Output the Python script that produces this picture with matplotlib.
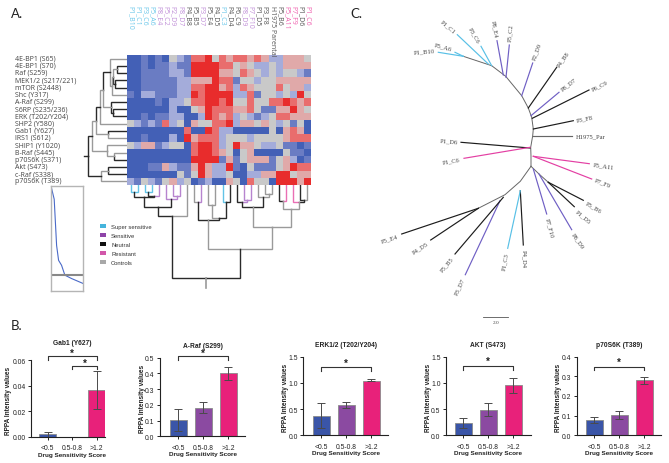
import matplotlib
matplotlib.use("Agg")
import matplotlib.pyplot as plt
from matplotlib.colors import ListedColormap
from matplotlib.patches import Rectangle

W, H = 669, 464
SKY, PUR, BLK, GRY, PNK = '#62c3e6', '#b784cf', '#2a2a2a', '#9a9a9a', '#ea6fb4'

# ---------- Panel A data ----------
proteins = ['4E-BP1 (S65)', '4E-BP1 (S70)', 'Raf (S259)', 'MEK1/2 (S217/221)', 'mTOR (S2448)',
            'Shc (Y317)', 'A-Raf (S299)', 'S6RP (S235/236)', 'ERK (T202/Y204)', 'SHP2 (Y580)',
            'Gab1 (Y627)', 'IRS1 (S612)', 'SHIP1 (Y1020)', 'B-Raf (S445)', 'p70S6K (S371)',
            'Akt (S473)', 'c-Raf (S338)', 'p70S6K (T389)']
clones = ['P1_B10', 'P1_C1', 'P3_C6', 'P5_A6', 'P8_E4', 'P5_C2', 'P2_D9', 'P8_D7', 'P4_B8',
          'P5_B5', 'P3_D7', 'P5_E4', 'P4_D5', 'P1_C3', 'P4_D4', 'P6_C9', 'P8_D9', 'P7_F10',
          'P1_D5', 'P3_F8', 'H1975 Parental', 'P5_B6', 'P5_A11', 'P7_F9', 'P1_D6', 'P1_C6']
clone_group = 'ssssppppnnpnnsnnppnncnrrnr'
group_colors = {'s': '#6cc8ea', 'p': '#c08fd8', 'n': '#555555', 'c': '#555555', 'r': '#ef5fae'}
intensity = [
    [0,0,1,0,1,0,3,2,1,5,5,6,3, 5,4,5,5,4,5,4,2,2,4,4,4,3],
    [0,0,1,0,1,1,2,1,1,6,6,6,6, 5,5,3,4,3,2,2,3,2,4,4,4,4],
    [0,0,1,1,1,1,2,2,1,6,6,6,6, 4,4,3,5,4,3,2,3,2,3,3,2,1],
    [0,0,1,1,1,1,1,2,2,4,4,4,6, 5,5,1,3,3,2,3,3,4,4,4,4,4],
    [0,0,1,1,1,1,1,2,2,5,5,6,6, 4,5,2,5,4,3,3,3,5,3,4,4,2],
    [1,0,2,2,1,1,1,2,2,6,5,6,6, 6,6,2,2,5,1,3,3,2,3,2,6,3],
    [0,0,0,0,1,0,2,2,3,5,5,6,6, 5,6,3,3,5,3,3,5,5,6,5,4,5],
    [0,0,0,0,0,0,2,0,0,3,4,6,5, 5,5,4,4,5,3,1,1,4,4,6,4,3],
    [0,0,1,0,1,1,2,2,0,0,2,6,5, 4,5,2,3,2,1,2,3,5,5,4,4,4],
    [3,2,1,2,1,5,2,3,0,4,3,3,5, 5,6,2,4,4,3,4,3,2,3,1,3,0],
    [0,0,0,0,0,0,0,0,5,0,0,6,5, 2,2,0,0,0,0,0,3,0,4,5,4,0],
    [0,0,1,0,0,0,2,0,6,4,5,5,5, 2,3,3,3,2,3,3,3,3,4,5,5,5],
    [3,2,4,4,1,2,3,3,0,5,6,6,5, 2,3,6,4,4,3,2,2,3,1,1,0,1],
    [0,0,0,0,0,0,0,0,0,5,6,6,5, 4,3,0,3,4,0,0,0,0,3,1,1,0],
    [0,0,0,0,0,0,0,0,0,6,6,6,6, 1,4,1,3,4,4,4,1,3,4,2,0,1],
    [0,0,0,1,1,4,2,1,1,4,6,4,2, 2,6,1,0,3,1,1,1,3,4,6,5,5],
    [0,0,0,0,0,0,0,3,1,3,6,4,2, 2,3,0,0,2,2,4,4,6,6,3,4,4],
    [2,1,3,2,1,3,4,2,3,0,1,2,0, 0,4,3,0,5,3,3,0,6,6,6,4,6],
]
heat_colors = ['#4360b6', '#6a7cc3', '#a4acda', '#c9c9c9', '#e0a9a9', '#e96d6d', '#e82c2c']

# merges: child a, child b, height, colour of a's side, colour of b's side
col_merges = [
    (0,1,7.3,SKY,SKY), (2,3,6.7,SKY,SKY), (27,4,10.7,BLK,PUR), (26,28,12.3,BLK,BLK),
    (6,7,10.7,PUR,PUR), (5,30,14,PUR,PUR), (29,31,22,BLK,BLK), (32,8,31,BLK,GRY),
    (9,10,17.3,GRY,PUR), (11,12,20,GRY,GRY), (13,14,16.7,SKY,BLK), (35,36,33.3,GRY,BLK),
    (34,37,35.3,BLK,BLK), (16,17,15,PUR,PUR), (15,39,16.7,BLK,PUR), (19,20,9,GRY,GRY),
    (18,41,12.3,GRY,GRY), (40,42,22.3,BLK,BLK), (21,22,16,BLK,PNK), (24,25,14.7,BLK,GRY),
    (23,45,17.3,PNK,BLK), (44,46,24,GRY,GRY), (43,47,41.7,GRY,GRY), (38,48,64,GRY,GRY),
    (33,49,93,BLK,BLK),
]
col_stem = 103
row_merges = [
    (1,2,10.3,BLK,BLK), (3,4,11.7,BLK,BLK), (18,19,13.7,GRY,BLK), (20,5,15,GRY,GRY),
    (0,21,17,GRY,GRY), (7,8,13.7,BLK,BLK), (6,23,16,BLK,BLK), (22,24,23.7,BLK,GRY),
    (25,9,27,GRY,GRY), (10,11,19,BLK,GRY), (26,27,31.3,BLK,GRY), (13,14,12.7,GRY,BLK),
    (12,29,20.3,GRY,GRY), (28,30,34.7,GRY,GRY), (15,16,18.7,BLK,BLK), (32,17,26,GRY,GRY),
    (31,33,38.7,BLK,BLK),
]
row_stem = 43

key_x = [.02, .10, .175, .237, .33, .433, .64, 1.0]
key_y = [.975, .874, .434, .292, .245, .151, .119, .072]
key_level = .151

legend_names = ['Super sensitive', 'Sensitive', 'Neutral', 'Resistant', 'Controls']
legend_colors = ['#45b4dc', '#8e44a8', '#111111', '#d257aa', '#a8a8a8']

# ---------- Panel B data ----------
score_bins = ['<0.5', '0.5-0.8', '>1.2']
bar_colors = ['#3a55a8', '#8b4aa1', '#e8217a']
panels = [
    dict(title='Gab1 (Y627)', means=[.002, 0, .037], low=[0, 0, .022], high=[.004, 0, .0515],
         ticks=[0, .02, .04, .06], fmt='%.2f', box=(31, 105, 361.3, 438), c0=47.7, step=24.5),
    dict(title='A-Raf (S299)', means=[.105, .182, .40], low=[.035, .15, .36], high=[.172, .218, .44],
         ticks=[0, .1, .2, .3, .4, .5], fmt='%.1f', box=(160, 245, 358.7, 437.3), c0=178.3, step=25),
    dict(title='ERK1/2 (T202/Y204)', means=[.37, .58, 1.045], low=[.13, .52, 1.03], high=[.61, .63, 1.065],
         ticks=[0, .5, 1, 1.5], fmt='%.1f', box=(303.3, 388.3, 357.7, 436.3), c0=321, step=25),
    dict(title='AKT (S473)', means=[.235, .49, .955], low=[.14, .37, .81], high=[.33, .615, 1.1],
         ticks=[0, .5, 1, 1.5], fmt='%.1f', box=(446, 530.7, 357.7, 436.3), c0=463.3, step=25),
    dict(title='p70S6K (T389)', means=[.078, .103, .28], low=[.063, .085, .262], high=[.092, .122, .298],
         ticks=[0, .1, .2, .3, .4], fmt='%.1f', box=(576.7, 661.3, 357.7, 436.3), c0=594, step=25),
]
# bracket: from bar, to bar, bracket level, leg end level, star level
brackets = [
    [(0, 2, .0634, .0605, .0655), (1, 2, .0558, .053, .058)],
    [(0, 2, .508, .483, .532)],
    [(0, 2, 1.303, 1.233, 1.385)],
    [(0, 2, 1.328, 1.252, 1.42)],
    [(0, 2, .349, .332, .372)],
]

# ---------- Panel C data ----------
tree_backbone = [(463.3,57.3),(491.7,66.7),(505.7,77.3),(521.7,96.7),(528.3,109),(531.7,118.3),
                 (533.3,130),(532.7,136.7),(530.7,148.3),(531,157.3),(531,167.3)]
tree_left = [(531,167.3),(520.3,182.3),(505,195.7),(478.3,209.3)]
tree_right = [(531,167.3),(539,175),(548.3,183.3)]
tree_names = ['P1_C1','P5_A6','P1_B10','P3_C6','P8_E4','P5_C2','P2_D9','P4_B8','P8_D7','P6_C9','P3_F8',
              'H1975_Par','P1_D6','P1_C6','P5_A11','P7_F9','P5_B6','P1_D5','P8_D9','P7_F10','P4_D4',
              'P1_C3','P3_D7','P5_B5','P4_D5','P5_E4']
tree_groups = ['s','s','s','s','p','p','p','n','p','n','n','c','n','r','r','r','n','n','p','p','n','s','p','n','n','n']
tree_base = [(488.3,65),(463.3,57.3),(463.3,57.3),(491.7,66.7),(503.3,76),(506,78.3),(521.7,96.7),
             (528.3,109),(531,116.7),(532.3,119.3),(533.3,130),(532.7,136.7),(530,149),(530,148.3),
             (533.3,157.3),(533.3,157.3),(548.3,183.3),(548.3,183.3),(539,175),(533.3,170),
             (520.3,191.7),(520.3,191.7),(500,201.7),(503.3,198.3),(478.3,209.3),(478.3,209.3)]
tree_tip = [(457.3,35.7),(455,53.3),(438.3,53.3),(481,47.3),(497,41.7),(509.3,46),(532.7,64),
            (556.7,68.3),(559,93.3),(589,91),(573.3,121.7),(571.7,136.7),(461,143.3),(464,159.3),
            (589.3,164.7),(591.7,180),(583.3,201.3),(574.3,207.7),(571.7,230.7),(546.7,215),
            (523.3,246),(507.7,249.3),(465.3,275.7),(455,255),(430.7,241),(401.7,235)]
tree_label_pos = [(448.3,27.3),(443.3,47.7),(424,51.7),(474.3,36),(494,29.3),(510.3,33.3),(536.7,52.3),
                  (563.3,59),(568.3,84.7),(600,86),(584.7,119.3),(590.7,137),(448.7,142),(451,161.7),
                  (603.3,166.7),(602.3,183.3),(594,207.3),(582.7,216.7),(577.7,241),(550,228.3),
                  (524,258.7),(505.3,262.3),(459.3,287.3),(446.7,264.7),(420,248.7),(389,239.3)]
tree_label_rot = [-40,-15,5,-60,-80,85,70,55,38,27,12,0,-5,10,-8,-22,-30,-40,-55,-75,-90,80,65,50,33,18]
tree_colors = {'s':'#58c0e6','p':'#6f5fc4','n':'#1c1c1c','c':'#666666','r':'#e33fa3'}
scale_bar = [(483.3,318),(508.3,318)]

# ---------- Drawing ----------
fig = plt.figure(figsize=(W/100, H/100), dpi=100, facecolor='white')

def px_axes(l, r, t, b, **kw):
    return fig.add_axes([l/W, 1-b/H, (r-l)/W, (b-t)/H], **kw)

def ftext(x, y, s, **kw):
    return fig.text(x/W, 1-y/H, s, **kw)

SANS = 'Open Sans'
ARIAL = 'Liberation Sans'
SERIF = 'Liberation Serif'

# heatmap
ax = px_axes(127, 311, 56, 186)
ax.imshow(intensity, cmap=ListedColormap(heat_colors), vmin=0, vmax=6, aspect='auto',
          interpolation='nearest')
ax.set_xticks([]); ax.set_yticks([])
for s in ax.spines.values():
    s.set_visible(False)
for i, name in enumerate(proteins):
    ftext(15, 56 + 7.22*(i+.5) - .6, name, fontsize=5.0, family=SANS, color='#444444', va='center', ha='left')
for i, name in enumerate(clones):
    ftext(127 + 7.08*(i+.5), 6.5, name, fontsize=5.0, family=SANS, rotation=-90, ha='center', va='top',
          color=group_colors[clone_group[i]])

def draw_tree(axis, merges, n, stem, vertical_root):
    pos = {i: i for i in range(n)}
    hgt = {i: 0 for i in range(n)}
    last = None
    for k, (a, b, h, ca, cb) in enumerate(merges):
        idx = n + k
        mid = (pos[a] + pos[b]) / 2
        for child, colr in ((a, ca), (b, cb)):
            xs = [pos[child], pos[child], mid]
            ys = [hgt[child], h, h]
            if vertical_root:
                axis.plot(xs, ys, color=colr, lw=1.0, solid_capstyle='projecting', solid_joinstyle='miter')
            else:
                axis.plot(ys, xs, color=colr, lw=1.0, solid_capstyle='projecting', solid_joinstyle='miter')
        pos[idx], hgt[idx] = mid, h
        last = idx
    xs, ys = [pos[last], pos[last]], [hgt[last], stem]
    if vertical_root:
        axis.plot(xs, ys, color=GRY, lw=1.2)
    else:
        axis.plot(ys, xs, color=BLK, lw=1.0)

ax = px_axes(127, 311, 186, 290)
ax.set_xlim(-.5, 25.5); ax.set_ylim(104, 0); ax.axis('off')
draw_tree(ax, col_merges, 26, col_stem, True)

ax = px_axes(80, 127, 56, 186)
ax.set_xlim(47, 0); ax.set_ylim(17.5, -.5); ax.axis('off')
draw_tree(ax, row_merges, 18, row_stem, False)

# colour key
ax = px_axes(51, 83, 187, 292)
ax.plot(key_x, key_y, color='#4a6ac8', lw=.8)
ax.axhline(key_level, color='#888888', lw=1.5)
ax.set_xlim(0, 1); ax.set_ylim(0, 1); ax.set_xticks([]); ax.set_yticks([])
for s in ax.spines.values():
    s.set_color('#b5b5b5'); s.set_linewidth(1)

# legend
for i, (name, colr) in enumerate(zip(legend_names, legend_colors)):
    y = 227.3 + 9*i
    fig.add_artist(Rectangle((100/W, 1-(y+2)/H), 6/W, 4/H, transform=fig.transFigure, color=colr, lw=0))
    ftext(111, y, name, fontsize=4.2, family=ARIAL, color='#333333', va='center', ha='left')

ftext(11, 14, 'A.', fontsize=9.5, family='Lato', color='#222222', va='center')
ftext(11, 326, 'B.', fontsize=9.5, family='Lato', color='#222222', va='center')
ftext(350, 14, 'C.', fontsize=9.5, family='Lato', color='#222222', va='center')

# bars
for p, br in zip(panels, brackets):
    l, r, t, b = p['box']
    ax = px_axes(l, r, t, b)
    x = list(range(len(score_bins)))
    err = [[m - lo for m, lo in zip(p['means'], p['low'])],
           [hi - m for m, hi in zip(p['means'], p['high'])]]
    ax.bar(x, p['means'], width=.68, color=bar_colors, edgecolor='#8a8a8a', linewidth=.6)
    ax.errorbar(x, p['means'], yerr=err, fmt='none', ecolor='#4a4a4a', elinewidth=.7, capsize=2.9, capthick=.7)
    ax.set_xlim(-(p['c0']-l)/p['step'], (r-p['c0'])/p['step'])
    ax.set_ylim(0, p['ticks'][-1])
    ax.set_xticks(x); ax.set_xticklabels(score_bins)
    ax.set_yticks(p['ticks']); ax.set_yticklabels([p['fmt'] % v for v in p['ticks']])
    ax.tick_params(labelsize=4.9, length=2.4, width=.7, pad=1.5, colors='#222222', labelfontfamily=ARIAL)
    ax.tick_params(axis='x', pad=3)
    for s in ('top', 'right'):
        ax.spines[s].set_visible(False)
    for s in ('left', 'bottom'):
        ax.spines[s].set_linewidth(.8); ax.spines[s].set_color('#222222')
    for x0, x1, lev, leg, star in br:
        ax.plot([x0, x0, x1, x1], [leg, lev, lev, leg], color='#333333', lw=.8, clip_on=False)
        ax.text((x0+x1)/2, star, '*', ha='center', va='center', fontsize=7, family=ARIAL,
                fontweight='bold', color='#222222', clip_on=False)
    cx = p['c0'] + p['step']
    ftext(cx, t - (17.5 if p['title'] == 'Gab1 (Y627)' else 12.5), p['title'], ha='center', va='center', fontsize=4.8,
          family=ARIAL, fontweight='bold', color='#222222')
    ftext(cx, b + 17.5, 'Drug Sensitivity Score', ha='center', va='center', fontsize=4.6,
          family=ARIAL, fontweight='bold', color='#222222')
    ftext(l - 18 if l > 100 else 9, (t+b)/2 + 1, 'RPPA Intensity values', ha='center', va='center', rotation=90,
          fontsize=4.7, family=ARIAL, fontweight='bold', color='#222222')

# unrooted tree
ax = px_axes(380, 669, 0, 340)
ax.set_xlim(380, 669); ax.set_ylim(340, 0); ax.axis('off')
for path in (tree_backbone, tree_left, tree_right):
    ax.plot([q[0] for q in path], [q[1] for q in path], color='#666666', lw=.7)
for name, g, base, tip, lp, rot in zip(tree_names, tree_groups, tree_base, tree_tip, tree_label_pos, tree_label_rot):
    ax.plot([base[0], tip[0]], [base[1], tip[1]], color=tree_colors[g], lw=.85)
    ax.text(lp[0], lp[1], name, fontsize=4.7, family=SERIF, color='#444444', rotation=rot,
            rotation_mode='anchor', ha='center', va='center')
ax.plot([q[0] for q in scale_bar], [q[1] for q in scale_bar], color='#555555', lw=.6)
ax.text(496.3, 323.3, '2.0', fontsize=3.8, family=SERIF, color='#444444', ha='center', va='center')

fig.savefig('out.png', dpi=100, facecolor='white')
